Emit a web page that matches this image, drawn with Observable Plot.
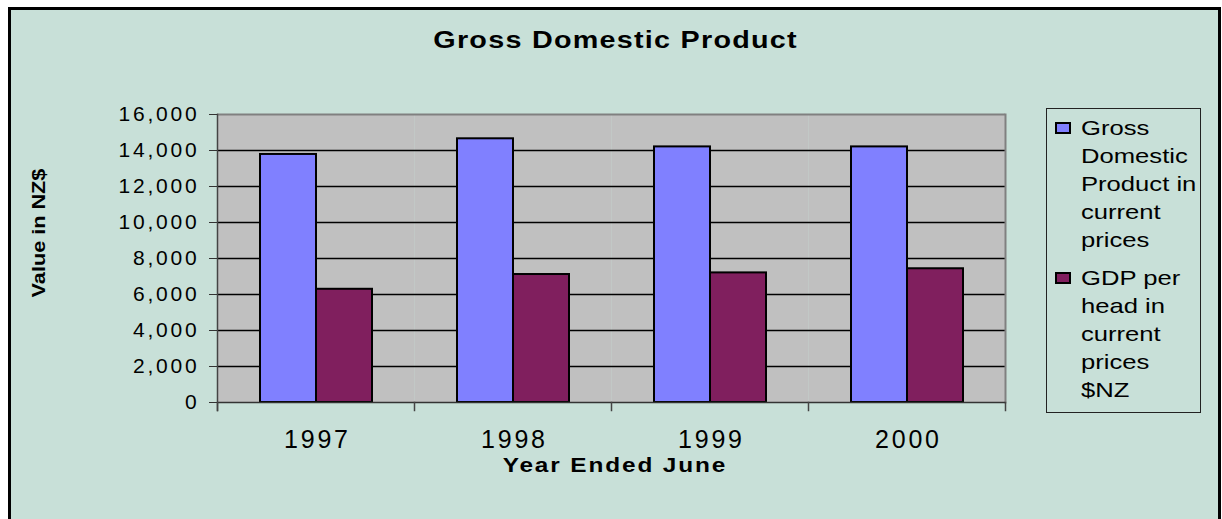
<!DOCTYPE html>
<html>
<head>
<meta charset="utf-8">
<script src="https://cdn.jsdelivr.net/npm/d3@7"></script>
<script src="https://cdn.jsdelivr.net/npm/@observablehq/plot@0.6"></script>
<style>
  body { margin: 0; width: 1222px; height: 519px; overflow: hidden; background: #fff;
         font-family: "Liberation Sans", Arial, sans-serif; color: #000; }
  #frame { position: absolute; left: 8px; top: 7px; width: 1213px; height: 540px;
           box-sizing: border-box; border: 3px solid #000; background: #c8e0d8; }
  #chart { position: absolute; left: 0; top: 0; }
  .txt { position: absolute; white-space: nowrap; }
  #title { left: 0; width: 1230px; top: 25px; line-height: 30px; text-align: center;
           font-size: 23px; font-weight: bold; letter-spacing: 1px; padding-left: 1px; box-sizing: border-box;
           transform: scaleX(1.25); transform-origin: 615px 50%; }
  #ylabel { left: -61.5px; width: 200px; top: 221px; line-height: 24px; text-align: center;
            font-size: 19px; font-weight: bold; transform: rotate(-90deg) scaleX(1.14); }
  #xlabel { left: 0; width: 1228px; top: 451px; line-height: 28px; text-align: center;
            font-size: 19.5px; font-weight: bold; letter-spacing: 1.5px; padding-left: 1.5px; box-sizing: border-box;
            transform: scaleX(1.25); transform-origin: 614px 50%; }
  #legend { position: absolute; left: 1046px; top: 108px; width: 155px; height: 305px;
            box-sizing: border-box; border: 1px solid #222; }
  .sw { position: absolute; width: 16px; height: 12px; box-sizing: border-box; border: 2px solid #000; }
  .lt { position: absolute; left: 1081px; line-height: 28px; font-size: 21px; white-space: nowrap;
        transform: scaleX(1.22); transform-origin: 0 50%; }
  g[aria-label="y-axis tick label"] text { letter-spacing: 2.8px; }
  g[aria-label="fx-axis tick label"] text { letter-spacing: 2.8px; }
</style>
</head>
<body>
<div id="frame"></div>
<div id="chart"></div>
<div id="title" class="txt">Gross Domestic Product</div>
<div id="ylabel" class="txt">Value in NZ$</div>
<div id="xlabel" class="txt">Year Ended June</div>
<div id="legend"></div>
<div id="legendItems"></div>
<script>
// ---- data ----
const years = ["1997", "1998", "1999", "2000"];
const seriesNames = [
  "Gross Domestic Product in current prices",
  "GDP per head in current prices $NZ"
];
const legendLines = [
  ["Gross", "Domestic", "Product in", "current", "prices"],
  ["GDP per", "head in", "current", "prices", "$NZ"]
];
const gdpCurrent = [13780, 14650, 14200, 14200];
const gdpPerHead = [6290, 7110, 7200, 7430];
const yTicks = [0, 2000, 4000, 6000, 8000, 10000, 12000, 14000, 16000];
const colors = ["#8080ff", "#801f5e"];

const table = years.flatMap((yr, i) => [
  {year: yr, series: seriesNames[0], value: gdpCurrent[i]},
  {year: yr, series: seriesNames[1], value: gdpPerHead[i]}
]);

// ---- layout ----
const W = 1222, H = 519;
const mT = 114, mR = 216, mB = 117, mL = 216;
const innerH = H - mT - mB;

const chart = Plot.plot({
  width: W, height: H,
  marginTop: mT, marginRight: mR, marginBottom: mB, marginLeft: mL,
  style: {background: "transparent", fontFamily: "'Liberation Sans', Arial, sans-serif", color: "#000", overflow: "visible"},
  fx: {domain: years, padding: 0},
  x: {domain: seriesNames, paddingInner: 0, paddingOuter: 0.757, axis: null},
  y: {domain: [0, 16000]},
  color: {domain: seriesNames, range: colors},
  marks: [
    Plot.frame({fill: "#c0c0c0", stroke: "none"}),
    Plot.gridY(yTicks.slice(1, -1), {stroke: "#000", strokeOpacity: 1, strokeWidth: 1.4}),
    Plot.ruleY([16000], {stroke: "#808080", strokeWidth: 2}),
    Plot.frame({anchor: "right", facetAnchor: "right", stroke: "#808080", strokeWidth: 2}),
    Plot.barY(table, {fx: "year", x: "series", y: "value", fill: "series", stroke: "#000", strokeWidth: 2}),
    Plot.ruleY([0], {stroke: "#333", strokeWidth: 1.5}),
    Plot.frame({anchor: "left", facetAnchor: "left", insetBottom: -8, stroke: "#444", strokeWidth: 1.5}),
    Plot.frame({anchor: "left", insetTop: innerH, insetBottom: -8, stroke: "#444", strokeWidth: 1.5}),
    Plot.frame({anchor: "right", facetAnchor: "right", insetTop: innerH, insetBottom: -8, stroke: "#444", strokeWidth: 1.5}),
    Plot.axisY({ticks: yTicks, tickFormat: d3.format(","), tickSize: 8, tickPadding: 10, fontSize: 21, stroke: "#333", label: null}),
    Plot.axisFx({anchor: "bottom", tickSize: 0, tickPadding: 28, fontSize: 25, dx: 1.4, label: null})
  ]
});
document.getElementById("chart").appendChild(chart);

// ---- legend ----
const items = document.getElementById("legendItems");
const swTops = [122, 271.5];
const textTops = [113.5, 263.5];
seriesNames.forEach((s, i) => {
  const sw = document.createElement("div");
  sw.className = "sw";
  sw.style.left = "1055px";
  sw.style.top = swTops[i] + "px";
  sw.style.background = colors[i];
  items.appendChild(sw);
  const t = document.createElement("div");
  t.className = "lt";
  t.style.top = textTops[i] + "px";
  t.innerHTML = legendLines[i].join("<br>");
  items.appendChild(t);
});
</script>
</body>
</html>
